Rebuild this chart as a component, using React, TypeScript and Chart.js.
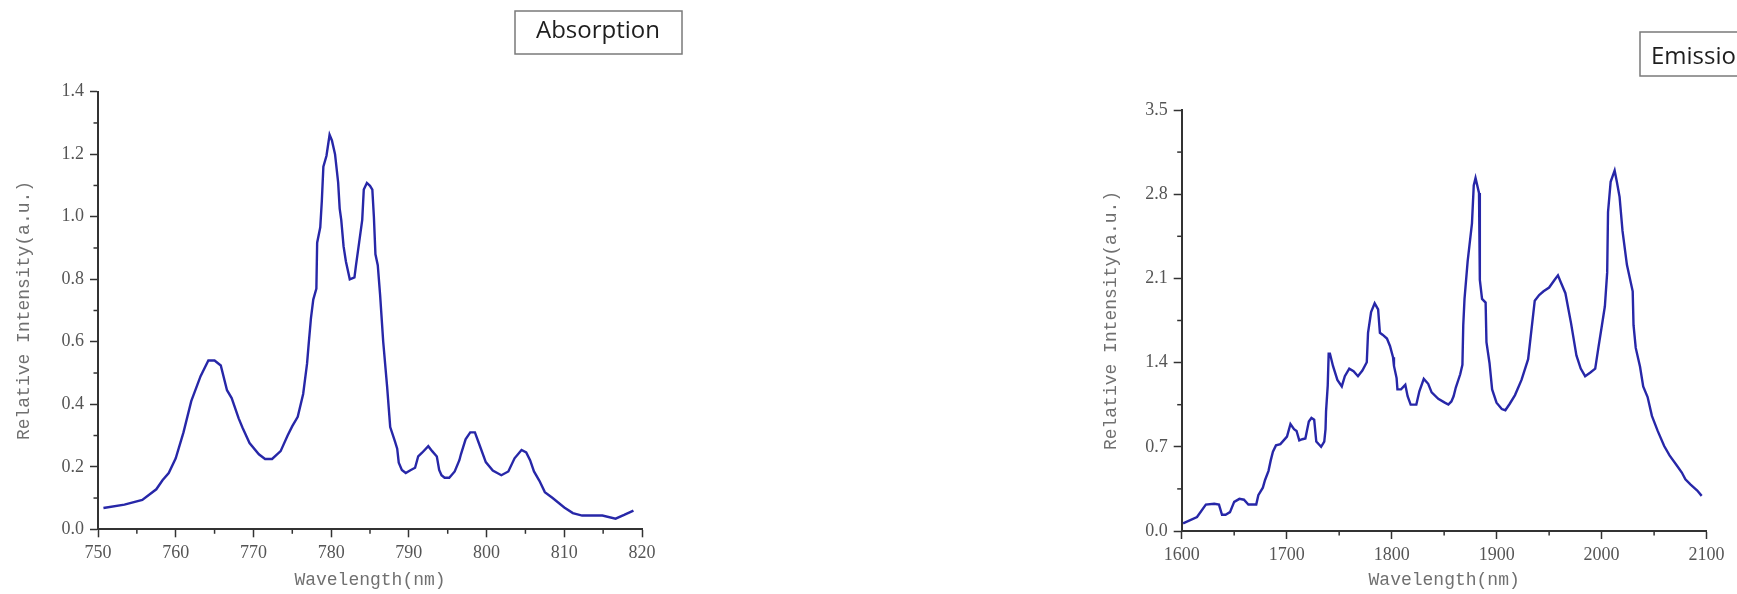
import React, { useEffect, useRef } from 'react';
import { Chart, registerables } from 'chart.js';

Chart.register(...registerables);

// ---------- Data ----------
const absWavelength = [
  750.7, 753.4, 755.7, 757.5, 758.3, 759.1, 760.0, 761.0, 762.0, 763.2,
  764.2, 765.0, 765.8, 766.6, 767.2, 768.1, 768.6, 769.5, 770.7, 771.5,
  772.4, 773.5, 774.4, 775.0, 775.7, 776.4, 776.9, 777.1, 777.4, 777.7,
  778.1, 778.2, 778.6, 778.8, 779.0, 779.4, 779.8, 780.1, 780.5, 780.9,
  781.1, 781.3, 781.6, 781.9, 782.4, 783.0, 783.2, 783.6, 784.0, 784.2,
  784.6, 785.0, 785.3, 785.5, 785.7, 786.0, 786.3, 786.7, 787.2, 787.6,
  788.2, 788.5, 788.7, 789.1, 789.6, 790.2, 790.8, 791.2, 791.7, 792.5,
  793.0, 793.6, 793.9, 794.2, 794.6, 795.2, 795.9, 796.5, 796.7, 797.3,
  797.9, 798.5, 799.0, 799.9, 800.8, 801.9, 802.8, 803.6, 804.5, 805.1,
  805.6, 806.1, 806.8, 807.5, 808.5, 810.0, 811.1, 812.3, 814.9, 816.6,
  817.7, 818.9,
];
const absIntensity = [
  0.068, 0.079, 0.094, 0.128, 0.157, 0.18, 0.227, 0.31, 0.41, 0.49,
  0.54, 0.54, 0.524, 0.445, 0.42, 0.355, 0.325, 0.276, 0.24, 0.225,
  0.225, 0.25, 0.3, 0.33, 0.36, 0.433, 0.53, 0.59, 0.675, 0.735,
  0.77, 0.917, 0.966, 1.05, 1.16, 1.195, 1.262, 1.244, 1.2, 1.11,
  1.026, 0.99, 0.905, 0.857, 0.8, 0.806, 0.845, 0.917, 0.99, 1.087,
  1.108, 1.099, 1.087, 1.0, 0.88, 0.845, 0.75, 0.6, 0.457, 0.327,
  0.282, 0.258, 0.213, 0.19, 0.18, 0.189, 0.197, 0.233, 0.245, 0.266,
  0.25, 0.233, 0.19, 0.173, 0.165, 0.165, 0.185, 0.221, 0.24, 0.288,
  0.31, 0.31, 0.276, 0.215, 0.188, 0.173, 0.185, 0.227, 0.254, 0.246,
  0.221, 0.185, 0.155, 0.119, 0.1, 0.07, 0.052, 0.044, 0.044, 0.034,
  0.046, 0.06,
];

const emiWavelength = [
  1601.3, 1614.6, 1623, 1631, 1635.5, 1638.4, 1641.8, 1646, 1650, 1655,
  1659.3, 1663.5, 1671, 1673, 1677.3, 1679.4, 1682.7, 1684.8, 1686.9, 1689.8,
  1694, 1700.3, 1703.6, 1707, 1709.4, 1712, 1714.9, 1717.8, 1721.1, 1723.6,
  1726.2, 1728.2, 1732.8, 1735.8, 1737, 1737.5, 1739.1, 1740, 1741.2, 1744.1,
  1748.3, 1752.5, 1755.4, 1759.6, 1763.7, 1767.9, 1772.1, 1776.3, 1777.5, 1780.4,
  1783.8, 1787.1, 1788.8, 1791.3, 1795.5, 1798.4, 1801.3, 1802.2, 1804.7, 1805.5,
  1808.9, 1813.0, 1815.2, 1818.1, 1823.5, 1826.4, 1830.6, 1834.8, 1838.1, 1844.4,
  1850.6, 1854, 1856.9, 1859, 1861.1, 1865.3, 1867.4, 1868.2, 1869.4, 1872.4,
  1876.5, 1878.2, 1879.9, 1883.2, 1884.0, 1886.1, 1889.5, 1890.3, 1893.2, 1895.7,
  1899.9, 1904.9, 1908.3, 1912.5, 1917.5, 1923.7, 1930.0, 1936.3, 1940.5, 1944.7,
  1950.0, 1955.1, 1958.4, 1961.4, 1965.5, 1970.9, 1976, 1980.1, 1984.3, 1989.3,
  1993.9, 1996.9, 2000.3, 2003.1, 2005.3, 2006.1, 2008.6, 2012.4, 2014.5, 2017.1,
  2019.9, 2024.1, 2029.6, 2030.4, 2032.5, 2036.6, 2039.6, 2043.8, 2047.9, 2053.4,
  2059.6, 2064.7, 2071.3, 2076.4, 2079.8, 2084.8, 2091.1, 2095.3,
];
const emiIntensity = [
  0.063, 0.116, 0.22, 0.226, 0.22, 0.135, 0.135, 0.157, 0.242, 0.267,
  0.26, 0.22, 0.22, 0.298, 0.36, 0.424, 0.5, 0.587, 0.66, 0.712,
  0.722, 0.785, 0.89, 0.847, 0.832, 0.753, 0.763, 0.769, 0.91, 0.94,
  0.926, 0.744, 0.7, 0.744, 0.847, 0.995, 1.208, 1.475, 1.475, 1.372,
  1.256, 1.202, 1.287, 1.35, 1.328, 1.287, 1.334, 1.403, 1.648, 1.82,
  1.893, 1.842, 1.648, 1.632, 1.6, 1.538, 1.444, 1.372, 1.271, 1.177,
  1.177, 1.215, 1.12, 1.051, 1.051, 1.161, 1.265, 1.224, 1.152, 1.099,
  1.067, 1.051, 1.077, 1.12, 1.193, 1.303, 1.381, 1.711, 1.93, 2.244,
  2.558, 2.872, 2.935, 2.81, 2.087, 1.93, 1.899, 1.569, 1.397, 1.177,
  1.067, 1.014, 1.004, 1.058, 1.13, 1.256, 1.428, 1.915, 1.962, 1.993,
  2.024, 2.087, 2.125, 2.062, 1.977, 1.726, 1.46, 1.35, 1.287, 1.318,
  1.35, 1.522, 1.711, 1.868, 2.15, 2.652, 2.903, 2.997, 2.903, 2.778,
  2.495, 2.213, 1.993, 1.711, 1.522, 1.365, 1.202, 1.114, 0.957, 0.832,
  0.706, 0.628, 0.549, 0.486, 0.43, 0.386, 0.336, 0.292,
];

const absXRange = [750, 820];
const absXStep = 10;
const absYRange = [0, 1.4];
const absYStep = 0.2;

const emiXRange = [1600, 2100];
const emiXStep = 100;
const emiYRange = [0, 3.5];
const emiYStep = 0.7;

const xTitle = 'Wavelength(nm)';
const yTitle = 'Relative Intensity(a.u.)';
const absLabel = 'Absorption';
const emiLabel = 'Emission';

// ---------- Styles ----------
const LINE_COLOR = '#2727a8';
const AXIS_COLOR = '#333333';
const TICK_LABEL_COLOR = '#555555';
const TITLE_COLOR = '#707070';

// Minor ticks between major ones, drawn through the chart's own scales
const minorTicksPlugin = {
  id: 'minorTicks',
  afterDraw(chart: any, _args: any, opts: any) {
    const { ctx, scales } = chart;
    const x = scales.x;
    const y = scales.y;
    ctx.save();
    ctx.strokeStyle = AXIS_COLOR;
    ctx.lineWidth = 1.5;
    const len = 4.5;
    const xs = opts.xStep / 2;
    for (let i = 0; x.min + xs * (2 * i + 1) < x.max; i++) {
      const px = x.getPixelForValue(x.min + xs * (2 * i + 1));
      ctx.beginPath();
      ctx.moveTo(px, x.top);
      ctx.lineTo(px, x.top + len);
      ctx.stroke();
    }
    const ys = opts.yStep / 2;
    for (let i = 0; y.min + ys * (2 * i + 1) < y.max; i++) {
      const py = y.getPixelForValue(y.min + ys * (2 * i + 1));
      ctx.beginPath();
      ctx.moveTo(y.right - len, py);
      ctx.lineTo(y.right, py);
      ctx.stroke();
    }
    ctx.restore();
  },
};

// Boxed label (like the original's text box)
const boxLabelPlugin = {
  id: 'boxLabel',
  afterDraw(chart: any, _args: any, opts: any) {
    const { ctx } = chart;
    ctx.save();
    ctx.strokeStyle = '#7a7a7a';
    ctx.lineWidth = 1.5;
    ctx.strokeRect(opts.x, opts.y, opts.w, opts.h);
    ctx.fillStyle = '#1e1e1e';
    ctx.font = '24px "Open Sans"';
    ctx.textBaseline = 'alphabetic';
    ctx.textAlign = 'left';
    ctx.fillText(opts.text, opts.textX, opts.baseline);
    ctx.restore();
  },
};

function makeConfig(p: {
  xs: number[];
  ys: number[];
  xRange: number[];
  xStep: number;
  yRange: number[];
  yStep: number;
  yAxisWidth: number;
  xAxisHeight: number;
  padTop: number;
  padRight: number;
  yTitlePad: number;
  box: any;
}): any {
  const data = p.xs.map((x, i) => ({ x, y: p.ys[i] }));
  const tickFont = { family: '"Liberation Serif", serif', size: 18 };
  const titleFont = { family: '"Liberation Mono", monospace', size: 18 };
  return {
    type: 'line',
    data: {
      datasets: [
        {
          data,
          borderColor: LINE_COLOR,
          borderWidth: 2.4,
          pointRadius: 0,
          tension: 0,
          fill: false,
        },
      ],
    },
    options: {
      responsive: false,
      animation: false,
      devicePixelRatio: 1,
      layout: { padding: { left: 0, top: p.padTop, right: p.padRight, bottom: 0 } },
      plugins: {
        legend: { display: false },
        tooltip: { enabled: false },
        minorTicks: { xStep: p.xStep, yStep: p.yStep },
        boxLabel: p.box,
      },
      scales: {
        x: {
          type: 'linear',
          min: p.xRange[0],
          max: p.xRange[1],
          afterFit: (s: any) => {
            s.height = p.xAxisHeight;
          },
          ticks: {
            stepSize: p.xStep,
            autoSkip: false,
            maxRotation: 0,
            color: TICK_LABEL_COLOR,
            font: tickFont,
            padding: 5,
            callback: (v: any) => String(Math.round(Number(v))),
          },
          grid: {
            display: true,
            drawOnChartArea: false,
            drawTicks: true,
            tickLength: 8,
            tickColor: AXIS_COLOR,
            tickWidth: 1.5,
          },
          border: { display: true, color: AXIS_COLOR, width: 2 },
          title: {
            display: true,
            text: xTitle,
            color: TITLE_COLOR,
            font: titleFont,
            padding: { top: 0, bottom: 3.2 },
          },
        },
        y: {
          type: 'linear',
          min: p.yRange[0],
          max: p.yRange[1],
          afterFit: (s: any) => {
            s.width = p.yAxisWidth;
          },
          ticks: {
            stepSize: p.yStep,
            color: TICK_LABEL_COLOR,
            font: tickFont,
            padding: 6,
            callback: (v: any) => Number(v).toFixed(1),
          },
          grid: {
            display: true,
            drawOnChartArea: false,
            drawTicks: true,
            tickLength: 8,
            tickColor: AXIS_COLOR,
            tickWidth: 1.5,
          },
          border: { display: true, color: AXIS_COLOR, width: 2 },
          title: {
            display: true,
            text: yTitle,
            color: TITLE_COLOR,
            font: titleFont,
            padding: { top: p.yTitlePad, bottom: 0 },
          },
        },
      },
    },
    plugins: [minorTicksPlugin, boxLabelPlugin],
  };
}

function SpectrumChart(props: { config: any; left: number; width: number; height: number }) {
  const ref = useRef<HTMLCanvasElement | null>(null);
  useEffect(() => {
    if (!ref.current) return;
    const chart = new Chart(ref.current, props.config);
    return () => chart.destroy();
  }, []);
  return (
    <canvas
      ref={ref}
      width={props.width}
      height={props.height}
      style={{ position: 'absolute', left: props.left, top: 0, width: props.width, height: props.height }}
    />
  );
}

export default function App() {
  const absConfig = makeConfig({
    xs: absWavelength,
    ys: absIntensity,
    xRange: absXRange,
    xStep: absXStep,
    yRange: absYRange,
    yStep: absYStep,
    yAxisWidth: 98,
    xAxisHeight: 64.7,
    padTop: 91.7,
    padRight: 58,
    yTitlePad: 13.7,
    box: { text: absLabel, x: 515, y: 11, w: 167, h: 43, textX: 536, baseline: 38 },
  });
  const emiConfig = makeConfig({
    xs: emiWavelength,
    ys: emiIntensity,
    xRange: emiXRange,
    xStep: emiXStep,
    yRange: emiYRange,
    yStep: emiYStep,
    yAxisWidth: 91.7,
    xAxisHeight: 63,
    padTop: 110,
    padRight: 30.4,
    yTitlePad: 10.2,
    box: { text: emiLabel, x: 550, y: 32, w: 140, h: 44, textX: 561, baseline: 63.5 },
  });
  return (
    <div
      style={{
        position: 'fixed',
        left: 0,
        top: 0,
        width: 1737,
        height: 594,
        background: '#ffffff',
        overflow: 'hidden',
      }}
    >
      <SpectrumChart config={absConfig} left={0} width={700} height={594} />
      <SpectrumChart config={emiConfig} left={1090} width={647} height={594} />
    </div>
  );
}
